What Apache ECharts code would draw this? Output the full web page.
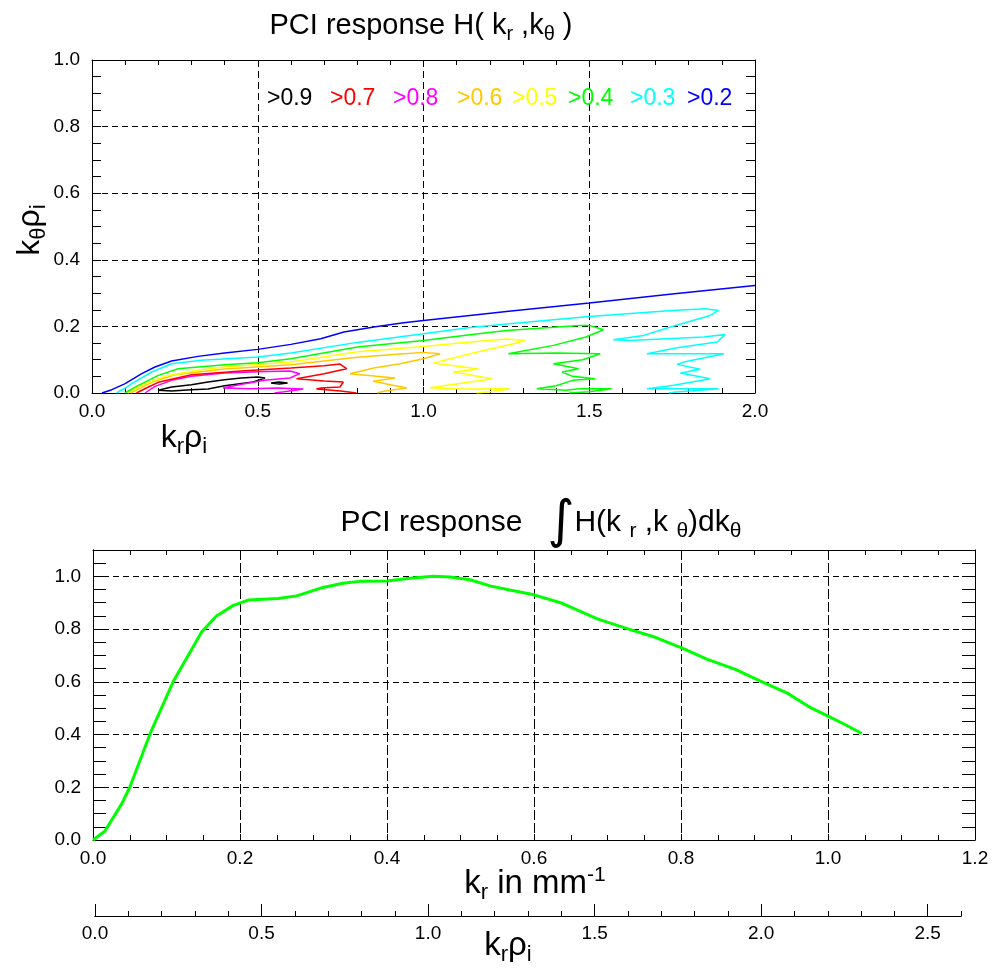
<!DOCTYPE html>
<html><head><meta charset="utf-8">
<script src="https://cdn.jsdelivr.net/npm/echarts@6/dist/echarts.min.js"></script>
<style>html,body{margin:0;padding:0;background:#fff}#c{width:994px;height:968px}</style>
</head><body><div id="c"></div>
<script>
// ---- top panel: contour levels (k_r rho_i , k_theta rho_i) ----
const lev02_kr = [0.03,0.06,0.10,0.15,0.19,0.24,0.32,0.40,0.50,0.60,0.69,0.76,0.85,0.94,1.00,1.14,1.25,1.50,1.75,2.00];
const lev02_kt = [0.000,0.010,0.028,0.058,0.078,0.096,0.110,0.120,0.131,0.146,0.163,0.183,0.198,0.211,0.218,0.233,0.245,0.270,0.297,0.323];

const lev03_kr = [0.074,0.10,0.12,0.18,0.24,0.33,0.50,0.60,0.80,1.00,1.14,1.30,1.50,1.75,1.85,1.89,1.865,1.745,1.664,1.573,1.62,1.845,1.91,1.886,1.765,1.674,1.906,1.785,1.765,1.835,1.775,1.865,1.755,1.674,1.89,1.755,1.74];
const lev03_kt = [0,0.015,0.028,0.063,0.088,0.098,0.108,0.12,0.152,0.178,0.197,0.212,0.23,0.248,0.253,0.248,0.233,0.198,0.173,0.16,0.158,0.168,0.176,0.153,0.136,0.118,0.118,0.093,0.086,0.071,0.06,0.043,0.023,0.013,0.013,0.002,0];

const lev04_kr = [0.099,0.14,0.20,0.26,0.40,0.50,0.60,0.80,1.00,1.14,1.25,1.47,1.50,1.543,1.49,1.392,1.256,1.40,1.533,1.48,1.392,1.468,1.418,1.45,1.518,1.45,1.40,1.342,1.43,1.47,1.568,1.50,1.44];
const lev04_kt = [0,0.023,0.053,0.073,0.085,0.091,0.103,0.138,0.158,0.175,0.188,0.203,0.203,0.19,0.168,0.143,0.118,0.12,0.118,0.10,0.088,0.073,0.063,0.05,0.043,0.038,0.022,0.013,0.008,0.013,0.013,0.004,0];

const lev05_kr = [0.108,0.16,0.22,0.30,0.40,0.60,0.80,1.00,1.14,1.25,1.307,1.271,1.15,1.03,1.166,1.09,1.206,1.14,1.02,1.12,1.261,1.20,1.16];
const lev05_kt = [0,0.028,0.05,0.065,0.078,0.093,0.124,0.14,0.153,0.162,0.158,0.148,0.12,0.09,0.072,0.063,0.043,0.033,0.016,0.012,0.013,0.004,0];

const lev06_kr = [0.117,0.15,0.18,0.25,0.40,0.60,0.80,0.93,1.00,1.05,1.00,0.929,0.85,0.778,0.914,0.848,0.949,0.88,0.86];
const lev06_kt = [0,0.017,0.032,0.055,0.072,0.085,0.107,0.117,0.122,0.118,0.103,0.088,0.075,0.058,0.045,0.035,0.015,0.005,0];

const lev07_kr = [0.134,0.17,0.20,0.30,0.45,0.60,0.70,0.748,0.768,0.70,0.617,0.70,0.758,0.748,0.69,0.677,0.75,0.798];
const lev07_kt = [0,0.018,0.032,0.055,0.066,0.075,0.082,0.087,0.073,0.058,0.043,0.036,0.033,0.018,0.015,0.012,0.006,0];

const lev08_kr = [0.16,0.19,0.24,0.30,0.40,0.50,0.597,0.627,0.597,0.52,0.46,0.395,0.48,0.56,0.637,0.58,0.55];
const lev08_kt = [0,0.02,0.038,0.05,0.06,0.064,0.066,0.058,0.045,0.038,0.028,0.015,0.013,0.015,0.012,0.004,0];

const lev09_kr = [0.20,0.24,0.30,0.35,0.40,0.45,0.50,0.522,0.486,0.40,0.35,0.30,0.24,0.20];
const lev09_kt = [0.008,0.018,0.025,0.033,0.04,0.045,0.048,0.045,0.033,0.022,0.012,0.01,0.006,0.008];
const lev09b_kr = [0.54,0.565,0.59,0.565,0.54];
const lev09b_kt = [0.03,0.033,0.03,0.027,0.03];

const legendLabels = ['>0.9','>0.7','>0.8','>0.6','>0.5','>0.4','>0.3','>0.2'];
const legendColors = ['#000000','#ff0000','#ff00ff','#ffc800','#ffff00','#00ff00','#00ffff','#0000ff'];

// ---- bottom panel: integrated response vs k_r (mm^-1) ----
const kr_mm = [0,0.016,0.039,0.05,0.078,0.109,0.148,0.168,0.191,0.211,0.252,0.277,0.313,0.34,0.363,0.40,0.431,0.463,0.486,0.513,0.54,0.567,0.60,0.636,0.687,0.729,0.766,0.80,0.836,0.874,0.911,0.944,0.977,1.0,1.023,1.046];
const resp  = [0,0.033,0.137,0.2,0.405,0.60,0.79,0.85,0.89,0.91,0.916,0.926,0.958,0.974,0.981,0.982,0.993,1.0,0.998,0.987,0.964,0.948,0.930,0.90,0.838,0.80,0.768,0.73,0.685,0.647,0.599,0.558,0.501,0.47,0.438,0.404];

const FONT = 'Liberation Sans';
const zip = (a,b) => a.map((v,i)=>[v,b[i]]);
const blk = '#000';

function axisBase(o){
  return Object.assign({
    type:'value',
    axisLine:{show:true,onZero:false,lineStyle:{color:blk,width:1}},
    axisTick:{show:true,inside:true,length:6,lineStyle:{color:blk,width:1}},
    minorTick:{show:false},
    axisLabel:{show:false},
    splitLine:{show:false}
  }, o);
}
const lbl = (extra)=>Object.assign({show:true,color:blk,fontSize:19,fontFamily:FONT,formatter:v=>v.toFixed(1)},extra||{});

const contours = [
  [lev09_kr,lev09_kt,'#000000'],[lev09b_kr,lev09b_kt,'#000000'],
  [lev08_kr,lev08_kt,'#ff00ff'],[lev07_kr,lev07_kt,'#ff0000'],
  [lev06_kr,lev06_kt,'#ffc800'],[lev05_kr,lev05_kt,'#ffff00'],
  [lev04_kr,lev04_kt,'#00ff00'],[lev03_kr,lev03_kt,'#00ffff'],
  [lev02_kr,lev02_kt,'#0000ff']
];

const series = contours.map(c=>({
  type:'line', xAxisIndex:0, yAxisIndex:0, data:zip(c[0],c[1]),
  showSymbol:false, symbol:'none', smooth:false, animation:false,
  lineStyle:{color:c[2],width:1.5}, z:3
}));
series.push({
  type:'line', xAxisIndex:2, yAxisIndex:2, data:zip(kr_mm,resp),
  showSymbol:false, symbol:'none', animation:false,
  lineStyle:{color:'#00ff00',width:3}, z:3
});

const legendX = [267,330,393,457,512,568,630,687];
const graphics = legendLabels.map((t,i)=>({
  type:'text', x:legendX[i], y:99, z:10,
  style:{text:t, fill:legendColors[i], font:'23px '+FONT, align:'left', verticalAlign:'middle'}
}));

const subStyle = (fs,pad)=>({fontSize:fs,fontFamily:FONT,fill:blk,padding:[pad,0,0,0]});
graphics.push(
  {type:'text', x:421, y:26, style:{text:'PCI response H( k{s|r} ,k{s|θ} )', font:'29px '+FONT, fill:blk, align:'center', verticalAlign:'middle',
     rich:{s:subStyle(20,16)}}},
  {type:'text', x:184, y:438, style:{text:'k{s|r}ρ{s|i}', font:'32px '+FONT, fill:blk, align:'center', verticalAlign:'middle',
     rich:{s:subStyle(22,18)}}},
  {type:'text', x:30, y:230, rotation:Math.PI/2, style:{text:'k{s|θ}ρ{s|i}', font:'32px '+FONT, fill:blk, align:'center', verticalAlign:'middle',
     rich:{s:subStyle(22,18)}}},
  {type:'text', x:541, y:523, style:{text:'PCI response   {i|∫}H(k {s|r} ,k {s|θ})dk{s|θ}', font:'30px '+FONT, fill:blk, align:'center', verticalAlign:'middle',
     rich:{s:subStyle(21,16), i:{fontSize:52,fontFamily:'DejaVu Sans',fill:blk}}}},
  {type:'text', x:535, y:884, style:{text:'k{s|r} in mm{p|-1}', font:'33px '+FONT, fill:blk, align:'center', verticalAlign:'middle',
     rich:{s:subStyle(22,18), p:{fontSize:21,fontFamily:FONT,fill:blk,padding:[0,0,18,0]}}}},
  {type:'text', x:508, y:946, style:{text:'k{s|r}ρ{s|i}', font:'33px '+FONT, fill:blk, align:'center', verticalAlign:'middle',
     rich:{s:subStyle(22,18)}}}
);

const chart = echarts.init(document.getElementById('c'), null, {renderer:'canvas'});
chart.setOption({
  backgroundColor:'#fff',
  animation:false,
  textStyle:{fontFamily:FONT},
  grid:[
    {left:92, top:60, width:663, height:333, outerBoundsMode:'none', containLabel:false},
    {left:93, top:550, width:882, height:290, outerBoundsMode:'none', containLabel:false},
    {left:95, top:915, width:866, height:1, outerBoundsMode:'none', containLabel:false}
  ],
  xAxis:[
    axisBase({gridIndex:0, position:'bottom', min:0, max:2, interval:0.5,
      axisTick:{show:true,inside:true,length:6,lineStyle:{color:blk}},
      minorTick:{show:true,splitNumber:5,length:5,lineStyle:{color:blk}},
      axisLabel:lbl({margin:9}),
      splitLine:{show:true,lineStyle:{color:blk,width:1,type:[7,4]}}}),
    axisBase({gridIndex:0, position:'top', min:0, max:2, interval:0.5,
      minorTick:{show:true,splitNumber:5,length:5,lineStyle:{color:blk}}}),
    axisBase({gridIndex:1, position:'bottom', min:0, max:1.2, interval:0.2,
      axisTick:{show:true,inside:true,length:6,lineStyle:{color:blk}},
      minorTick:{show:true,splitNumber:4,length:5,lineStyle:{color:blk}},
      axisLabel:lbl({margin:9}),
      splitLine:{show:true,lineStyle:{color:blk,width:1,type:[10,3]}}}),
    axisBase({gridIndex:1, position:'top', min:0, max:1.2, interval:0.2,
      minorTick:{show:true,splitNumber:4,length:5,lineStyle:{color:blk}}}),
    axisBase({gridIndex:2, position:'bottom', min:0, max:2.6, interval:0.5,
      axisTick:{show:true,inside:true,length:12,lineStyle:{color:blk}},
      axisLabel:lbl({margin:8, showMaxLabel:false})}),
    axisBase({gridIndex:2, position:'bottom', min:0, max:2.6, interval:0.1,
      axisTick:{show:true,inside:true,length:5,lineStyle:{color:blk}}})
  ],
  yAxis:[
    axisBase({gridIndex:0, position:'left', min:0, max:1, interval:0.2,
      axisTick:{show:true,inside:true,length:9,lineStyle:{color:blk}},
      minorTick:{show:true,splitNumber:4,length:9,lineStyle:{color:blk}},
      axisLabel:lbl({margin:12}),
      splitLine:{show:true,lineStyle:{color:blk,width:1,type:[6,4]}}}),
    axisBase({gridIndex:0, position:'right', min:0, max:1, interval:0.2,
      axisTick:{show:true,inside:true,length:9,lineStyle:{color:blk}},
      minorTick:{show:true,splitNumber:4,length:9,lineStyle:{color:blk}}}),
    axisBase({gridIndex:1, position:'left', min:0, max:1.1, interval:0.2,
      axisTick:{show:false},
      axisLabel:lbl({margin:12, showMaxLabel:false}),
      splitLine:{show:true,lineStyle:{color:blk,width:1,type:[6,4]}}}),
    axisBase({gridIndex:1, position:'left', min:0, max:1.1, interval:0.05,
      axisTick:{show:true,inside:true,length:13,lineStyle:{color:blk}}}),
    axisBase({gridIndex:1, position:'right', min:0, max:1.1, interval:0.05,
      axisTick:{show:true,inside:true,length:13,lineStyle:{color:blk}}}),
    axisBase({gridIndex:2, position:'left', min:0, max:1, show:false})
  ],
  series: series,
  graphic: graphics
});
</script></body></html>
